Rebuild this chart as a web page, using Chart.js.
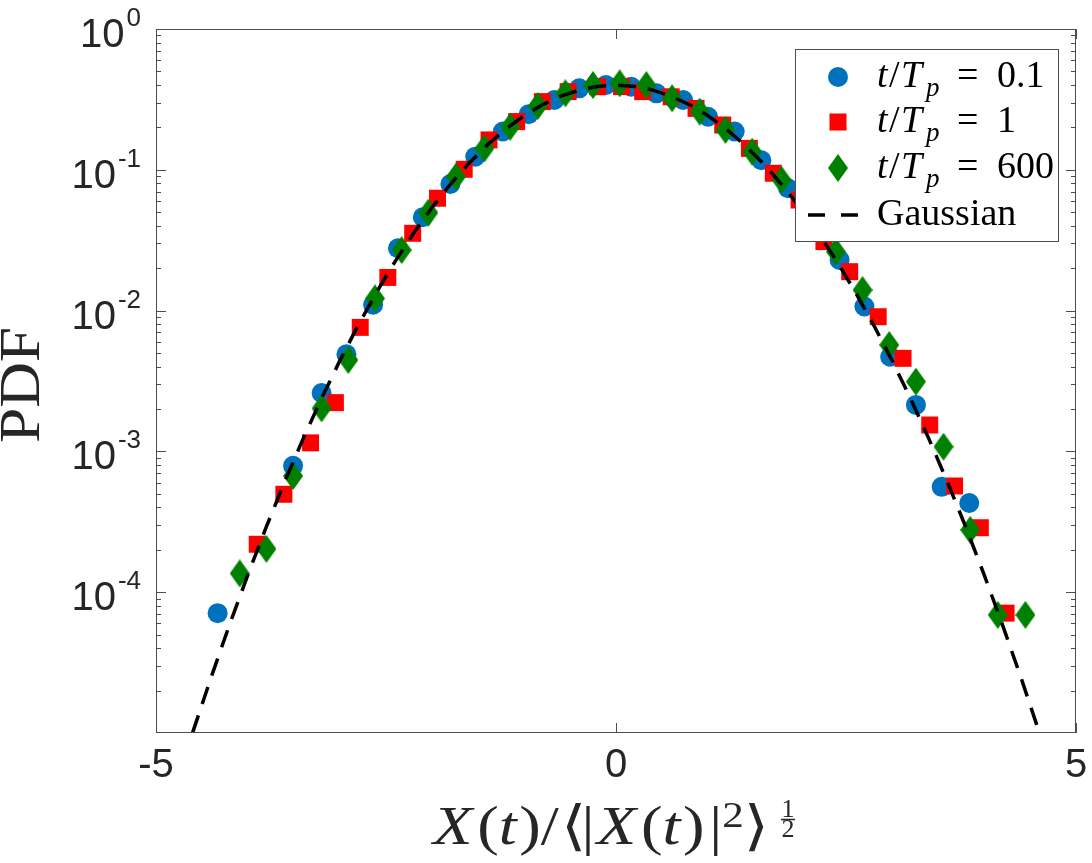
<!DOCTYPE html>
<html>
<head>
<meta charset="utf-8">
<script src="https://cdn.jsdelivr.net/npm/chart.js@4.4.0/dist/chart.umd.min.js"></script>
<style>
  html, body { margin: 0; padding: 0; background: #fff; }
  #wrap { width: 1092px; height: 863px; }
</style>
</head>
<body>
<div id="wrap"><canvas id="pdfChart" width="1092" height="863"></canvas></div>
<script>
// t/Tp = 0.1
const blueX = [-4.33, -3.51, -3.20, -2.93, -2.64, -2.37, -2.10, -1.80, -1.53, -1.23, -0.95, -0.67, -0.40, -0.11,
  0.165, 0.44, 0.73, 1.00, 1.29, 1.58, 1.87, 2.15, 2.43, 2.70, 2.98, 3.26, 3.54, 3.84];
const blueY = [7.1e-5, 7.9e-4, 2.6e-3, 4.9e-3, 0.0110, 0.0277, 0.046, 0.0793, 0.124, 0.187, 0.248, 0.313, 0.379, 0.400,
  0.389, 0.349, 0.313, 0.238, 0.187, 0.117, 0.0739, 0.040, 0.0229, 0.0107, 4.7e-3, 2.14e-3, 5.6e-4, 4.3e-4];

// t/Tp = 1
const redX = [-3.90, -3.61, -3.32, -3.05, -2.78, -2.48, -2.21, -1.94, -1.65, -1.38, -1.08, -0.80, -0.52, -0.20,
  0.06, 0.29, 0.60, 0.87, 1.16, 1.45, 1.71, 1.99, 2.26, 2.54, 2.85, 3.12, 3.41, 3.68, 3.96, 4.24];
const redY = [2.19e-4, 4.96e-4, 1.15e-3, 2.22e-3, 7.6e-3, 0.0172, 0.0354, 0.0628, 0.1008, 0.163, 0.220, 0.305, 0.359, 0.389,
  0.39, 0.359, 0.330, 0.273, 0.208, 0.142, 0.0945, 0.061, 0.0309, 0.0189, 9.05e-3, 4.58e-3, 1.54e-3, 5.68e-4, 2.87e-4, 7.1e-5];

// t/Tp = 600
const greenX = [-4.09, -3.80, -3.51, -3.20, -2.91, -2.62, -2.33, -2.04, -1.74, -1.43, -1.15, -0.85, -0.55, -0.25,
  0.04, 0.33, 0.61, 0.91, 1.19, 1.48, 1.80, 2.08, 2.39, 2.68, 2.97, 3.26, 3.56, 3.85, 4.15, 4.45];
const greenY = [1.36e-4, 2.03e-4, 6.69e-4, 2.02e-3, 4.46e-3, 0.0122, 0.0269, 0.0496, 0.0893, 0.142, 0.202, 0.284, 0.349, 0.400,
  0.411, 0.400, 0.322, 0.259, 0.192, 0.1344, 0.0847, 0.046, 0.0262, 0.0140, 5.70e-3, 3.13e-3, 1.08e-3, 2.77e-4, 6.9e-5, 6.9e-5];

// Gaussian reference curve
const gaussX = [-4.8, -4.6, -4.4, -4.2, -4.0, -3.8, -3.6, -3.4, -3.2, -3.0, -2.8, -2.6, -2.4, -2.2, -2.0, -1.8, -1.6, -1.4, -1.2, -1.0,
  -0.8, -0.6, -0.4, -0.2, 0, 0.2, 0.4, 0.6, 0.8, 1.0, 1.2, 1.4, 1.6, 1.8, 2.0, 2.2, 2.4, 2.6, 2.8, 3.0,
  3.2, 3.4, 3.6, 3.8, 4.0, 4.2, 4.4, 4.6, 4.8];
const gaussY = [3.961e-6, 1.014e-5, 2.494e-5, 5.894e-5, 1.338e-4, 2.919e-4, 6.119e-4, 1.232e-3, 2.384e-3, 4.432e-3,
  7.915e-3, 0.01358, 0.02239, 0.03547, 0.05399, 0.07895, 0.11092, 0.14973, 0.19419, 0.24197,
  0.28969, 0.33322, 0.36827, 0.39104, 0.39894, 0.39104, 0.36827, 0.33322, 0.28969, 0.24197,
  0.19419, 0.14973, 0.11092, 0.07895, 0.05399, 0.03547, 0.02239, 0.01358, 7.915e-3, 4.432e-3,
  2.384e-3, 1.232e-3, 6.119e-4, 2.919e-4, 1.338e-4, 5.894e-5, 2.494e-5, 1.014e-5, 3.961e-6];

const xTickVals = [-5, 0, 5];
const xTickLabels = ["-5", "0", "5"];
const yTickVals = [1, 0.1, 0.01, 0.001, 0.0001];
const yTickExps = ["0", "-1", "-2", "-3", "-4"];
const legendValues = ["0.1", "1", "600"];

const BLUE = "#0072bd";
const RED = "#ff0000";
const GREEN = "#008000";
const INK = "#262626";
const FRAME = "#4d4d4d";
const SANS = "'Liberation Sans', Arial, sans-serif";
const SERIF = "'Liberation Serif', 'DejaVu Serif', 'DejaVu Sans', serif";

function pts(xs, ys){ return xs.map((x, i) => ({ x: x, y: ys[i] })); }

function makeDiamond(w, h, color){
  const c = document.createElement("canvas");
  c.width = w; c.height = h;
  const g = c.getContext("2d");
  g.fillStyle = color;
  g.beginPath();
  g.moveTo(w / 2, 0); g.lineTo(w, h / 2); g.lineTo(w / 2, h); g.lineTo(0, h / 2);
  g.closePath(); g.fill();
  return c;
}
const diamond = makeDiamond(20, 28, GREEN);

function seg(ctx, x1, y1, x2, y2){
  ctx.beginPath(); ctx.moveTo(x1, y1); ctx.lineTo(x2, y2); ctx.stroke();
}

// draws a list of text runs left to right, returns end x
function runs(ctx, list, x, base){
  list.forEach(r => {
    ctx.font = r.f;
    ctx.fillText(r.t, x + (r.dx || 0), base - (r.up || 0));
    x += ctx.measureText(r.t).width + (r.dx || 0) + (r.gap || 0);
  });
  return x;
}

const framePlugin = {
  id: "frame",
  afterDraw(chart){
    const { ctx, chartArea: a, scales: { x, y } } = chart;
    ctx.save();

    // axes box + inward ticks
    ctx.strokeStyle = FRAME;
    ctx.lineWidth = 1;
    ctx.strokeRect(a.left + 0.5, a.top + 0.5, a.right - a.left - 1, a.bottom - a.top - 1);
    xTickVals.forEach(v => {
      const px = Math.round(x.getPixelForValue(v)) + 0.5;
      seg(ctx, px, a.bottom, px, a.bottom - 10);
      seg(ctx, px, a.top, px, a.top + 10);
    });
    for (let e = -5; e < 0; e++){
      for (let m = 2; m <= 9; m++){
        const py = Math.round(y.getPixelForValue(m * Math.pow(10, e))) + 0.5;
        seg(ctx, a.left, py, a.left + 5, py);
        seg(ctx, a.right, py, a.right - 5, py);
      }
    }
    yTickVals.forEach(v => {
      const py = Math.round(y.getPixelForValue(v)) + 0.5;
      seg(ctx, a.left, py, a.left + 10, py);
      seg(ctx, a.right, py, a.right - 10, py);
    });

    // tick labels
    ctx.fillStyle = INK;
    ctx.textBaseline = "alphabetic";
    ctx.textAlign = "center";
    ctx.font = "40px " + SANS;
    xTickVals.forEach((v, i) => {
      ctx.fillText(xTickLabels[i], x.getPixelForValue(v), a.bottom + 44);
    });
    ctx.textAlign = "left";
    yTickVals.forEach((v, i) => {
      const py = y.getPixelForValue(v);
      ctx.font = "26px " + SANS;
      const ws = ctx.measureText(yTickExps[i]).width;
      ctx.font = "40px " + SANS;
      const wb = ctx.measureText("10").width;
      const right = a.left - 15;
      const x0 = right - ws - 2 - wb;
      ctx.fillText("10", x0, py + 18);
      ctx.font = "26px " + SANS;
      ctx.fillText(yTickExps[i], x0 + wb + 2, py - 3);
    });

    // y title
    ctx.save();
    ctx.translate(39, 385);
    ctx.rotate(-Math.PI / 2);
    ctx.font = "56px " + SERIF;
    ctx.textAlign = "center";
    const wp = ctx.measureText("PDF").width;
    ctx.scale(116 / wp, 1);
    ctx.fillText("PDF", 0, 0);
    ctx.restore();

    // x title
    const it = "italic 54px " + SERIF, up = "54px " + SERIF;
    const title = [
      { t: "X", f: it, gap: 4 }, { t: "(", f: up }, { t: "t", f: it, gap: 2 }, { t: ")", f: up },
      { t: "/", f: up, gap: 2 }, { t: "\u27E8", f: up, gap: -4 }, { t: "|", f: up, gap: 2 },
      { t: "X", f: it, gap: 4 }, { t: "(", f: up }, { t: "t", f: it, gap: 2 }, { t: ")", f: up, gap: 4 },
      { t: "|", f: up }, { t: "2", f: "36px " + SERIF, up: 17, gap: 0 }, { t: "\u27E9", f: up }
    ];
    ctx.textAlign = "left";
    let mainW = 0;
    title.forEach(r => { ctx.font = r.f; mainW += ctx.measureText(r.t).width + (r.gap || 0); });
    const fracW = 14, fracGap = 12;
    const scaleX = (362 - fracW - fracGap) / mainW;
    ctx.save();
    ctx.translate(433, 0);
    ctx.scale(scaleX, 1);
    const endX = runs(ctx, title, 0, 844);
    ctx.restore();
    const fx = 433 + endX * scaleX + fracGap + fracW / 2;
    ctx.textAlign = "center";
    ctx.font = "26px " + SERIF;
    ctx.fillText("1", fx, 817);
    ctx.fillText("2", fx, 837);
    ctx.strokeStyle = INK;
    ctx.lineWidth = 1.5;
    seg(ctx, fx - 7, 819.5, fx + 7, 819.5);

    // legend
    const lx = 795, ly = 49, lw = 263, lh = 192;
    ctx.fillStyle = "#fff";
    ctx.fillRect(lx, ly, lw, lh);
    ctx.strokeStyle = FRAME;
    ctx.lineWidth = 1;
    ctx.strokeRect(lx + 0.5, ly + 0.5, lw, lh);

    const mx = 838, rows = [77, 122, 168, 215];
    ctx.fillStyle = BLUE;
    ctx.beginPath(); ctx.arc(mx, rows[0], 10, 0, Math.PI * 2); ctx.fill();
    ctx.fillStyle = RED;
    ctx.fillRect(mx - 8.5, rows[1] - 8.5, 17, 17);
    ctx.drawImage(diamond, mx - 10, rows[2] - 14);
    ctx.strokeStyle = "#000";
    ctx.lineWidth = 3.5;
    ctx.setLineDash([17, 16]);
    seg(ctx, 808, rows[3], 858, rows[3]);
    ctx.setLineDash([]);

    ctx.fillStyle = "#000";
    ctx.textAlign = "left";
    const lit = "italic 38px " + SERIF, lup = "38px " + SERIF;
    legendValues.forEach((val, i) => {
      const b = rows[i] + 10;
      ctx.font = lit; ctx.fillText("t", 877, b);
      ctx.font = lup; ctx.fillText("/", 889, b);
      ctx.font = lit; ctx.fillText("T", 901, b);
      ctx.font = "italic 27px " + SERIF; ctx.fillText("p", 926, b + 9);
      ctx.font = lup; ctx.fillText("=", 957, b);
      ctx.fillText(val, 997, b);
    });
    ctx.font = lup;
    ctx.fillText("Gaussian", 877, rows[3] + 10);

    ctx.restore();
  }
};

const chart = new Chart(document.getElementById("pdfChart"), {
  type: "scatter",
  data: {
    datasets: [
      {
        type: "line",
        label: "Gaussian",
        data: pts(gaussX, gaussY),
        borderColor: "#000",
        borderWidth: 3.5,
        borderDash: [18, 12],
        pointRadius: 0,
        fill: false,
        tension: 0,
        clip: 0,
        order: 0
      },
      {
        label: "t/Tp = 600",
        data: pts(greenX, greenY),
        pointStyle: diamond,
        pointRadius: 10,
        backgroundColor: GREEN,
        borderColor: GREEN,
        order: 1
      },
      {
        label: "t/Tp = 1",
        data: pts(redX, redY),
        pointStyle: "rect",
        pointRadius: 12,
        pointBorderWidth: 0,
        backgroundColor: RED,
        borderColor: RED,
        order: 2
      },
      {
        label: "t/Tp = 0.1",
        data: pts(blueX, blueY),
        pointStyle: "circle",
        pointRadius: 10,
        pointBorderWidth: 0,
        backgroundColor: BLUE,
        borderColor: BLUE,
        order: 3
      }
    ]
  },
  options: {
    responsive: false,
    animation: false,
    events: [],
    layout: { padding: { left: 156, right: 16, top: 29, bottom: 130 } },
    plugins: { legend: { display: false }, tooltip: { enabled: false } },
    scales: {
      x: { type: "linear", min: -5, max: 5, display: false },
      y: { type: "logarithmic", min: 1e-5, max: 1, display: false }
    }
  },
  plugins: [framePlugin]
});
</script>
</body>
</html>
